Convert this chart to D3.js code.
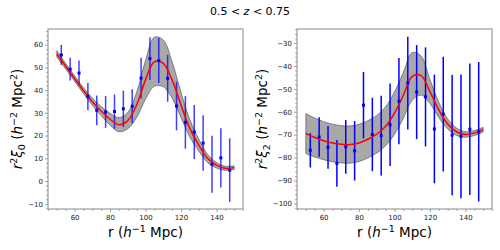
<!DOCTYPE html>
<html>
<head>
<meta charset="utf-8">
<script src="https://cdn.jsdelivr.net/npm/d3@7/dist/d3.min.js"></script>
<style>
  body { margin: 0; background: #fff; }
  svg { font-family: "DejaVu Sans", sans-serif; }
</style>
</head>
<body>
<svg id="chart" width="500" height="250"></svg>
<script>
// measured points: r bins
const rBins = [52.5, 57.5, 62.5, 67.5, 72.5, 77.5, 82.5, 87.5, 92.5, 97.5,
               102.5, 107.5, 112.5, 117.5, 122.5, 127.5, 132.5, 137.5, 142.5, 147.5];
const xi0 = [55.5, 49.2, 47.5, 37.2, 31.1, 30.4, 30.6, 31.8, 32.9, 45.3,
             53.9, 53.0, 45.2, 33.0, 25.8, 21.6, 16.7, 7.4, 10.2, 4.8];
const xi0Err = [4.4, 5.0, 5.5, 6.0, 6.5, 7.0, 7.5, 8.0, 7.5, 9.0,
                9.4, 9.9, 10.3, 10.7, 11.6, 11.9, 12.2, 12.5, 13.0, 14.0];
const xi2 = [-76.8, -71.0, -75.5, -82.5, -75.3, -77.0, -57.1, -69.9, -70.4, -65.7,
             -55.4, -47.5, -51.4, -53.5, -67.5, -61.0, -70.2, -70.7, -67.6, -68.7];
const xi2Err = [7.5, 8.6, 9.3, 10.2, 11.7, 13.0, 14.5, 16.0, 17.4, 18.0,
                18.8, 20.2, 20.5, 21.6, 23.7, 25.0, 26.2, 27.0, 28.7, 30.4];

// model curves, every 5 Mpc
const rModel = [50, 55, 60, 65, 70, 75, 80, 85, 90, 95, 100,
                105, 110, 115, 120, 125, 130, 135, 140, 145, 150];
const model0 = [55.9, 50.5, 45.1, 39.8, 34.9, 30.8, 27.2, 24.8, 26.6, 33.5, 44.5,
                52.5, 51.8, 44.5, 33.5, 23.2, 15.9, 10.0, 7.0, 5.6, 5.9];
const band0 = [1.4, 1.2, 1.2, 1.3, 1.6, 2.0, 2.6, 3.1, 3.6, 5.5, 8.5,
               10.8, 10.3, 8.0, 5.5, 3.8, 2.6, 1.8, 1.2, 0.9, 0.8];
const model2 = [-69.5, -71.2, -72.6, -73.6, -74.2, -74.3, -73.6, -72.0, -69.8, -66.3, -60.6,
                -52.8, -44.6, -44.2, -51.2, -59.2, -65.3, -68.7, -69.9, -69.3, -67.8];
const band2 = [8.7, 8.5, 8.3, 8.2, 8.1, 8.1, 8.1, 8.1, 8.2, 8.5, 9.2,
               10.0, 10.4, 8.5, 5.2, 3.3, 2.2, 1.6, 1.2, 1.1, 1.0];

const xTicks = [60, 80, 100, 120, 140];
const yTicks0 = [-10, 0, 10, 20, 30, 40, 50, 60];
const yTicks2 = [-100, -90, -80, -70, -60, -50, -40, -30];

const svg = d3.select("#chart");

svg.append("text")
    .attr("x", 250).attr("y", 15)
    .attr("text-anchor", "middle")
    .attr("font-size", 11)
    .html('0.5 &lt; <tspan font-style="italic">z</tspan> &lt; 0.75');

function drawPanel(opt) {
    const left = opt.left, top = 29, w = 195, h = 180;
    const g = svg.append("g");

    const x = d3.scaleLinear().domain([45, 155]).range([left, left + w]);
    const y = d3.scaleLinear().domain(opt.yDomain).range([top + h, top]);

    // band
    const area = d3.area()
        .x((d, i) => x(rModel[i]))
        .y0((d, i) => y(d - opt.band[i]))
        .y1((d, i) => y(d + opt.band[i]))
        .curve(d3.curveCatmullRom);
    g.append("path")
        .attr("d", area(opt.model))
        .attr("fill", "#a8a8a8")
        .attr("stroke", "#666")
        .attr("stroke-width", 0.8);

    // error bars
    g.selectAll(".err")
        .data(opt.vals)
        .join("line")
        .attr("x1", (d, i) => x(rBins[i]))
        .attr("x2", (d, i) => x(rBins[i]))
        .attr("y1", (d, i) => y(d - opt.errs[i]))
        .attr("y2", (d, i) => y(d + opt.errs[i]))
        .attr("stroke", "blue")
        .attr("stroke-opacity", opt.errOpacity)
        .attr("stroke-width", 1.5);

    // model line
    const line = d3.line()
        .x((d, i) => x(rModel[i]))
        .y(d => y(d))
        .curve(d3.curveCatmullRom);
    g.append("path")
        .attr("d", line(opt.model))
        .attr("fill", "none")
        .attr("stroke", "red")
        .attr("stroke-width", 1.5);

    g.selectAll(".pt")
        .data(opt.vals)
        .join("rect")
        .attr("x", (d, i) => x(rBins[i]) - 1.5)
        .attr("y", d => y(d) - 1.5)
        .attr("width", 3).attr("height", 3)
        .attr("fill", "blue");

    // axes
    const axColor = "#777";
    const xAxis = g.append("g")
        .attr("transform", `translate(0,${top + h})`)
        .call(d3.axisBottom(x).tickValues(xTicks).tickSize(3).tickPadding(3));
    g.append("g")
        .attr("transform", `translate(0,${top + h})`)
        .call(d3.axisBottom(x).tickValues(d3.range(45, 156, 5).filter(v => v % 20 !== 0))
            .tickSize(1.8).tickFormat(""));
    const yAxis = g.append("g")
        .attr("transform", `translate(${left},0)`)
        .call(d3.axisLeft(y).tickValues(opt.yTicks).tickSize(3).tickPadding(2));
    const minorY = d3.range(Math.ceil(opt.yDomain[0] / 2) * 2, opt.yDomain[1], 2)
        .filter(v => v % 10 !== 0);
    g.append("g")
        .attr("transform", `translate(${left},0)`)
        .call(d3.axisLeft(y).tickValues(minorY).tickSize(1.8).tickFormat(""));

    g.selectAll(".domain").remove();
    g.selectAll(".tick line").attr("stroke", axColor).attr("stroke-width", 0.7);
    g.selectAll(".tick text").attr("font-size", 7).attr("fill", "#222")
        .attr("font-family", "DejaVu Sans");

    g.append("rect")
        .attr("x", left).attr("y", top)
        .attr("width", w).attr("height", h)
        .attr("fill", "none")
        .attr("stroke", "#888")
        .attr("stroke-width", 1);

    // x label
    g.append("text")
        .attr("x", left + w / 2).attr("y", 237)
        .attr("text-anchor", "middle")
        .attr("font-size", 13.5)
        .html('r (<tspan font-style="italic">h</tspan><tspan dy="-5" font-size="9.5">−1</tspan><tspan dy="5"> Mpc)</tspan>');

    // y label
    g.append("text")
        .attr("transform", `translate(${opt.labelX},${top + h / 2}) rotate(-90)`)
        .attr("text-anchor", "middle")
        .attr("font-size", 13.5)
        .html('<tspan font-style="italic">r</tspan><tspan dy="-5" font-size="9.5">2</tspan>' +
              '<tspan dy="5" font-style="italic">ξ</tspan><tspan dy="3" font-size="9.5">' + opt.ell + '</tspan>' +
              '<tspan dy="-3"> (</tspan><tspan font-style="italic">h</tspan>' +
              '<tspan dy="-5" font-size="9.5">−2</tspan><tspan dy="5"> Mpc</tspan>' +
              '<tspan dy="-5" font-size="9.5">2</tspan><tspan dy="5">)</tspan>');
}

drawPanel({ left: 48, yDomain: [-12.3, 66.9], yTicks: yTicks0, vals: xi0, errs: xi0Err,
            model: model0, band: band0, ell: "0", labelX: 22, errOpacity: 0.75 });
drawPanel({ left: 297, yDomain: [-102.4, -23.9], yTicks: yTicks2, vals: xi2, errs: xi2Err,
            model: model2, band: band2, ell: "2", labelX: 267, errOpacity: 1 });
</script>
</body>
</html>
